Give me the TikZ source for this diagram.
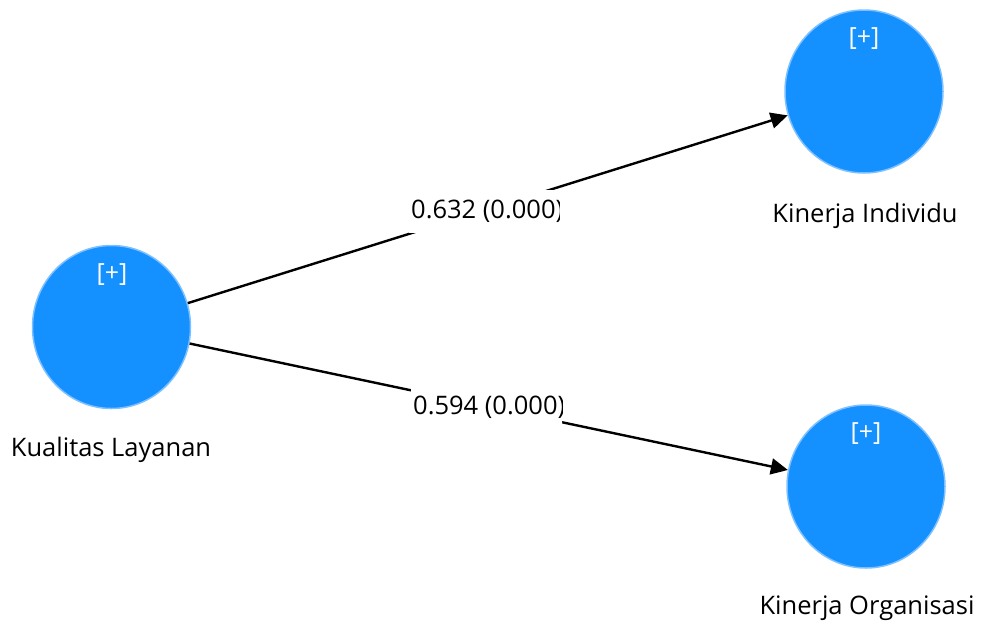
\documentclass[tikz,border=0pt]{standalone}
\usepackage{fontspec}
\setmainfont{Open Sans}
\usetikzlibrary{arrows.meta,shapes.geometric}
\definecolor{nodeblue}{RGB}{20,144,255}
\definecolor{rimblue}{RGB}{125,192,255}
\begin{document}
\begin{tikzpicture}[x=1pt,y=-1pt,
  lv/.style={ellipse,fill=nodeblue,draw=rimblue,line width=1.5pt,minimum width=158pt,minimum height=163pt,inner sep=0pt},
  plustxt/.style={text=white,font=\fontsize{25}{29}\selectfont,inner sep=0pt},
  lvname/.style={text=black,font=\fontsize{25.5}{30}\selectfont,inner sep=0pt},
  conn/.style={line width=2.4pt,-{Triangle[length=17pt,width=16pt]}},
  elab/.style={anchor=west,fill=white,text=black,font=\fontsize{25.5}{30}\selectfont,inner xsep=2pt,inner ysep=10pt}]
\useasboundingbox (0,0) rectangle (983,630);
\node[lv] (kl) at (111.5,327) {};
\node[lv] (ki) at (864,91.5) {};
\node[lv] (ko) at (866,486.5) {};
\node[plustxt] (klp) at (112,275) {[+]};
\node[plustxt] (kip) at (864,39) {[+]};
\node[plustxt] (kop) at (866,434) {[+]};
\node[lvname] (kln) at (111,450) {Kualitas Layanan};
\node[lvname] (kin) at (865,216) {Kinerja Individu};
\node[lvname] (kon) at (867,608) {Kinerja Organisasi};
\draw[conn] (kl) -- (ki);
\draw[conn] (kl) -- (ko);
\begin{scope}
\clip (0,0) rectangle (559,630);
\node[elab] (l1) at (409,211.5) {0.632 (0.000)};
\end{scope}
\begin{scope}
\clip (0,0) rectangle (562,630);
\node[elab] (l2) at (411,407) {0.594 (0.000)};
\end{scope}
\end{tikzpicture}
\end{document}
